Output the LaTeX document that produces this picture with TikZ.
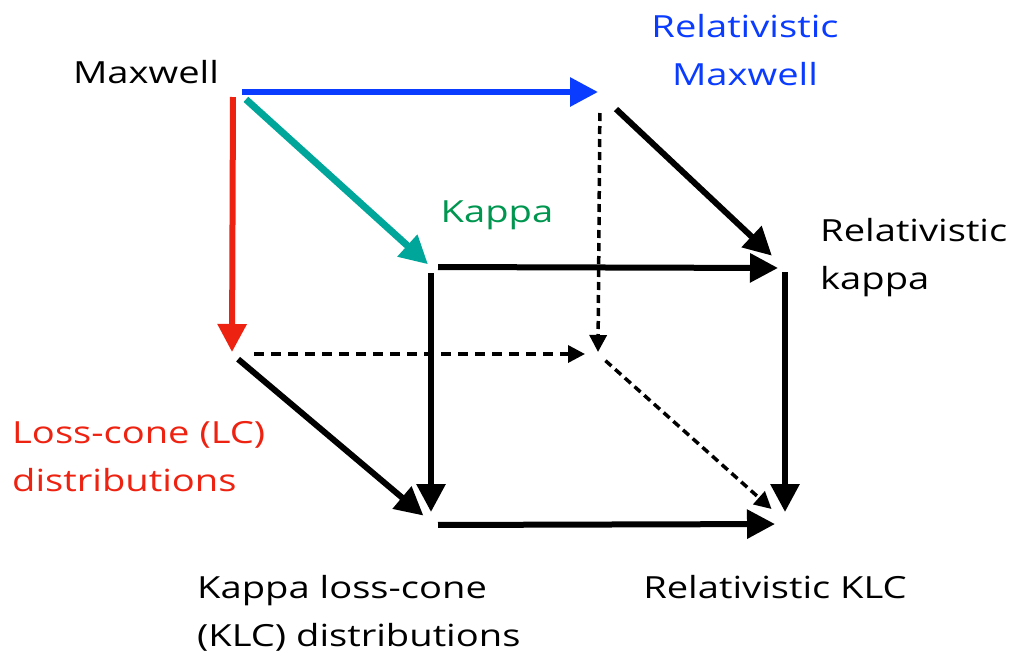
\documentclass[tikz,border=0pt]{standalone}
\usepackage{fontspec}
\setmainfont{Open Sans}[FakeStretch=1.25]
\usetikzlibrary{arrows.meta}
\definecolor{cblue}{RGB}{10,60,255}
\definecolor{cred}{RGB}{238,34,17}
\definecolor{cteal}{RGB}{0,166,153}
\definecolor{cgreen}{RGB}{0,150,80}
\begin{document}
\begin{tikzpicture}[x=1pt,y=-1pt,
  lbl/.style={font=\fontsize{30.5}{48}\selectfont,inner sep=0pt},
  big/.style={-{Triangle[length=28pt,width=28pt]},line width=6pt},
  small/.style={-{Triangle[length=17pt,width=17pt]},line width=3.5pt},
  dsh/.style={small,dash pattern=on 10pt off 7pt},
  dot/.style={small,dash pattern=on 8pt off 5pt}]
\useasboundingbox (0,0) rectangle (1019,662);
% corners
\coordinate (A) at (233,94);
\coordinate (B) at (600,94);
\coordinate (C) at (431,267);
\coordinate (D) at (785,268);
\coordinate (E) at (232,354);
\coordinate (F) at (598,354);
\coordinate (G) at (431,522);
\coordinate (H) at (785,521);
% labels
\node[lbl] (tmax) at (146,72) {Maxwell};
\node[lbl,text=cblue,align=center] (trm) at (745,50) {Relativistic\\Maxwell};
\node[lbl,text=cgreen] (tk) at (497,215) {Kappa};
\node[lbl,align=left,anchor=west] (trk) at (820,258) {Relativistic\\kappa};
\node[lbl,text=cred,align=left,anchor=west] (tlc) at (12,457) {Loss-cone (LC)\\distributions};
\node[lbl,align=left,anchor=west] (tklc) at (197,613) {Kappa loss-cone\\(KLC) distributions};
\node[lbl] (trklc) at (775,587) {Relativistic KLC};
% connectors
\draw[big,cblue,line width=6pt,shorten <=9pt,shorten >=2pt] ([yshift=2pt]A) -- ([yshift=2pt]B);
\draw[big,cteal,line width=7pt,shorten <=8pt,shorten >=4pt] ([xshift=7pt]A) -- (C);
\draw[big,cred,line width=6pt,shorten <=3pt,shorten >=2pt] (A) -- (E);
\draw[big,shorten <=22pt,shorten >=18pt] (B) -- (D);
\draw[dot,shorten <=19pt,shorten >=2pt] (B) -- (F);
\draw[big,shorten <=7pt,shorten >=7pt] (C) -- (D);
\draw[big,shorten <=6pt,shorten >=10pt] (C) -- (G);
\draw[big,shorten <=4pt,shorten >=9pt] (D) -- (H);
\draw[dsh,shorten <=22pt,shorten >=13pt] (E) -- (F);
\draw[big,shorten <=8pt,shorten >=10pt] (E) -- (G);
\draw[dot,shorten <=10pt,shorten >=18pt] (F) -- (H);
\draw[big,shorten <=7pt,shorten >=10pt] ([yshift=-3pt]G) -- ([yshift=-3pt]H);
\end{tikzpicture}
\end{document}
